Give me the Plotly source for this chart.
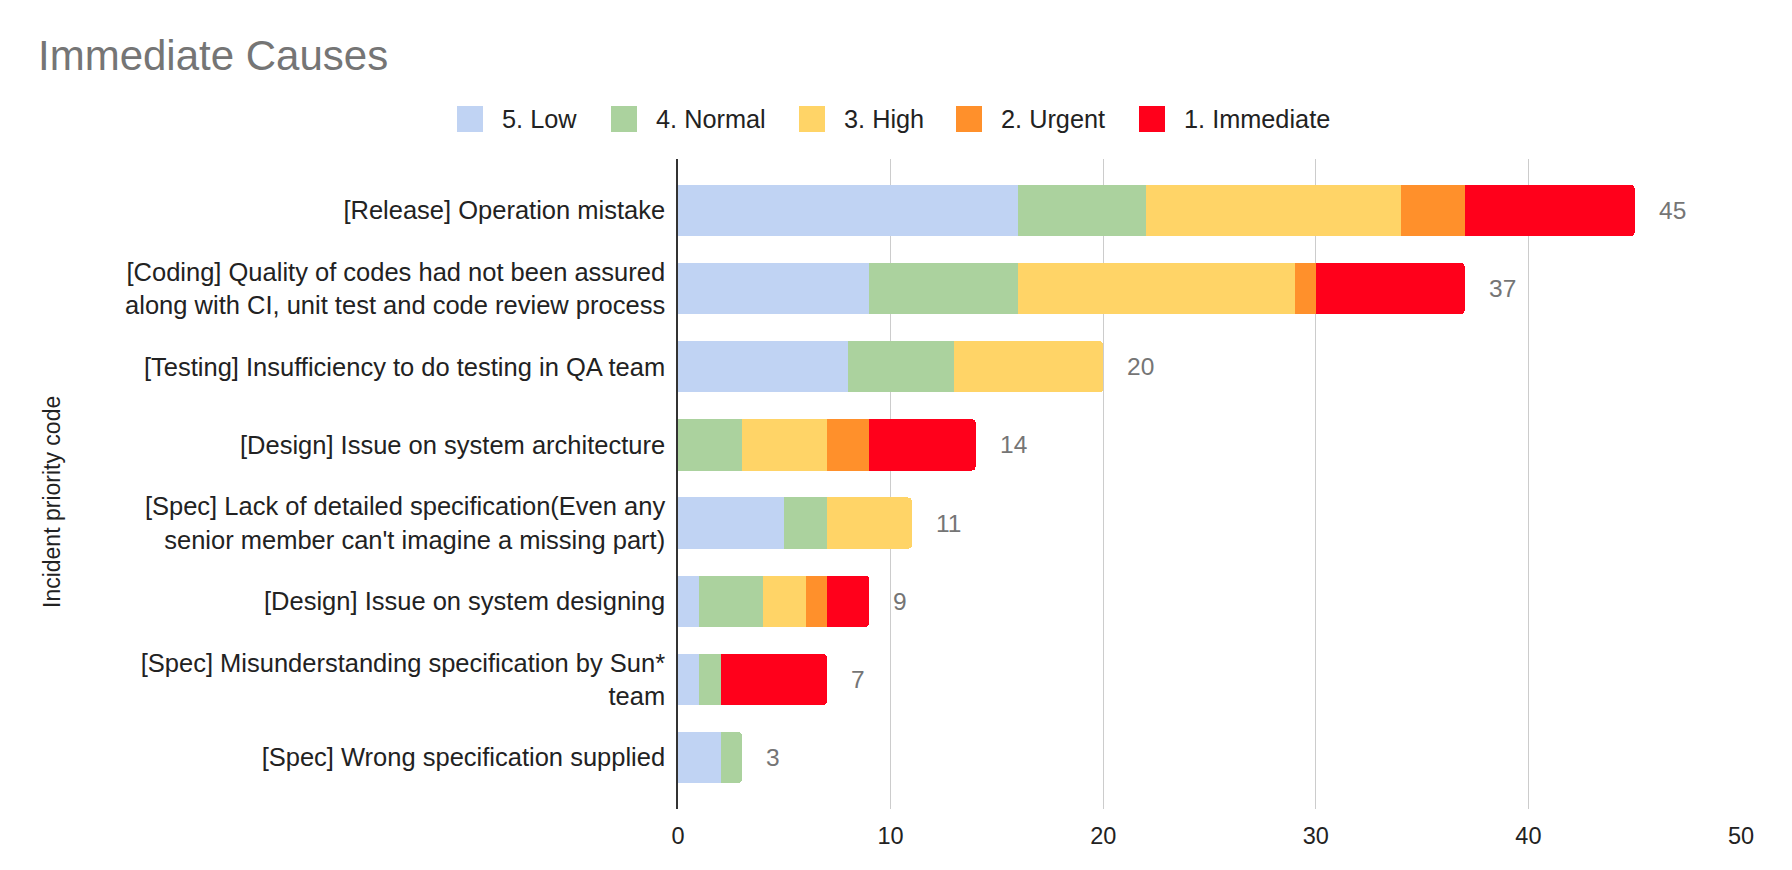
import plotly.graph_objects as go

# ---------------- data ----------------
categories = [
    "[Release] Operation mistake",
    "[Coding] Quality of codes had not been assured<br>along with CI, unit test and code review process",
    "[Testing] Insufficiency to do testing in QA team",
    "[Design] Issue on system architecture",
    "[Spec] Lack of detailed specification(Even any<br>senior member can't imagine a missing part)",
    "[Design] Issue on system designing",
    "[Spec] Misunderstanding specification by Sun*<br>team",
    "[Spec] Wrong specification supplied",
]
series_names = ["5. Low", "4. Normal", "3. High", "2. Urgent", "1. Immediate"]
low = [16, 9, 8, 0, 5, 1, 1, 2]
normal = [6, 7, 5, 3, 2, 3, 1, 1]
high = [12, 13, 7, 4, 4, 2, 0, 0]
urgent = [3, 1, 0, 2, 0, 1, 0, 0]
immediate = [8, 7, 0, 5, 0, 2, 5, 0]
x_ticks = [0, 10, 20, 30, 40, 50]

series_values = [low, normal, high, urgent, immediate]
colors = ["#c0d3f3", "#abd29e", "#ffd467", "#ff902b", "#ff001b"]
totals = [sum(v) for v in zip(*series_values)]

# ---------------- layout geometry (page pixels; body has an 8px margin) ----------------
OFF = 8
W, H = 1792 - OFF, 870 - OFF
L, R, T, B = 678 - OFF, 1741 - OFF, 159 - OFF, 809 - OFF
pw, ph = R - L, B - T


def px(xp):
    return (xp - OFF - L) / pw


def py(yp):
    return (B - (yp - OFF)) / ph


FONT = "Liberation Sans, Arial, sans-serif"

fig = go.Figure()
for name, vals, col in zip(series_names, series_values, colors):
    marker = dict(color=col, line=dict(width=0))
    if name == "1. Immediate":
        marker["cornerradius"] = 4
    fig.add_trace(go.Bar(
        y=categories, x=vals, name=name, orientation="h",
        marker=marker, showlegend=False, hoverinfo="x+name",
    ))

annotations = []
# totals
for cat, tot in zip(categories, totals):
    annotations.append(dict(
        x=tot, y=cat, xref="x", yref="y", text=str(tot), showarrow=False,
        xanchor="left", xshift=22, font=dict(size=24.5, color="#757575", family=FONT),
    ))

# custom legend
leg_sw_x = [457, 611, 799, 956, 1139]
leg_y = 119
shapes = []
for name, col, sx in zip(series_names, colors, leg_sw_x):
    shapes.append(dict(
        type="rect", xref="paper", yref="paper",
        x0=px(sx), x1=px(sx + 26), y0=py(leg_y + 13), y1=py(leg_y - 13),
        fillcolor=col, line=dict(width=0), layer="above",
    ))
    annotations.append(dict(
        x=px(sx + 43), y=py(leg_y), xref="paper", yref="paper", text=name,
        showarrow=False, xanchor="left", yanchor="middle",
        font=dict(size=25.3, color="#222222", family=FONT),
    ))

# y axis title
annotations.append(dict(
    x=px(52), y=py(502), xref="paper", yref="paper", text="Incident priority code",
    showarrow=False, textangle=-90, xanchor="center", yanchor="middle",
    font=dict(size=23, color="#222222", family=FONT),
))

fig.update_layout(
    width=W, height=H,
    margin=dict(l=L, r=W - R, t=T, b=H - B, pad=0),
    paper_bgcolor="white", plot_bgcolor="white",
    barmode="stack", bargap=0.345,
    title=dict(text="Immediate Causes", x=(38 - OFF) / W, xanchor="left",
               y=1 - (55 - OFF) / H, yanchor="middle",
               font=dict(size=42, color="#757575", family=FONT)),
    xaxis=dict(range=[0, 50], tickvals=x_ticks, showgrid=True, gridcolor="#cccccc",
               gridwidth=1, zeroline=False, showline=False, ticks="",
               tickfont=dict(size=23.5, color="#222222", family=FONT),
               ticklabelstandoff=10, fixedrange=True),
    yaxis=dict(categoryorder="array", categoryarray=categories,
               range=[len(categories) - 1 + 0.66, -0.66],
               showgrid=False, zeroline=False, showline=True, linecolor="#333333",
               linewidth=1.5, ticks="", ticklabelstandoff=6,
               tickfont=dict(size=25.5, color="#222222", family=FONT), fixedrange=True),
    annotations=annotations, shapes=shapes,
    showlegend=False,
)

fig.write_html("out.html")
